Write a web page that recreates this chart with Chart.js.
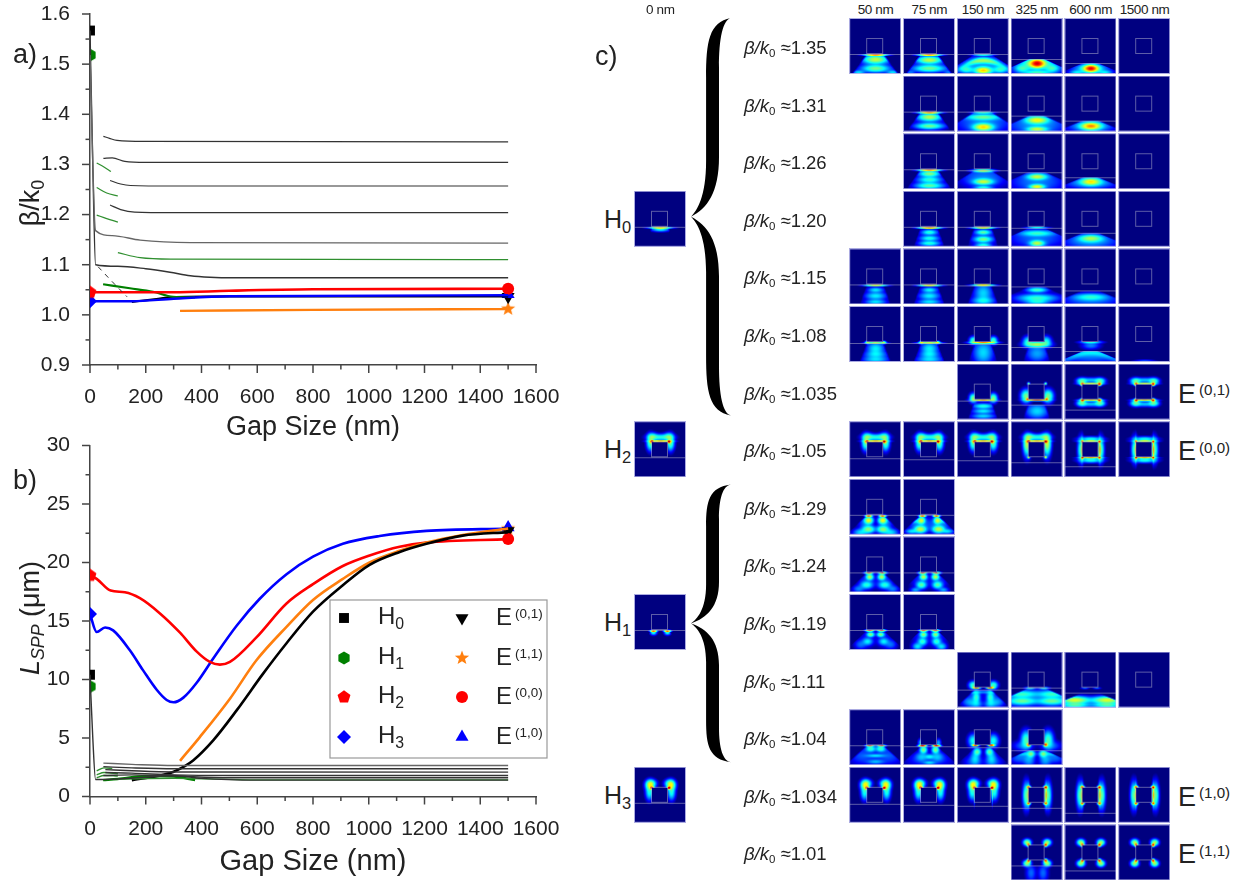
<!DOCTYPE html>
<html>
<head>
<meta charset="utf-8">
<title>Gap size chart</title>
<script src="https://cdn.jsdelivr.net/npm/chart.js@4/dist/chart.umd.js"></script>
<style>
  html, body { margin: 0; padding: 0; background: #fff; }
  #page { position: relative; width: 1237px; height: 882px; overflow: hidden; font-family: "Liberation Sans", Arial, sans-serif; color: #222; }
  canvas { position: absolute; }
  .lbl { position: absolute; white-space: nowrap; line-height: 1; transform: translateY(-50%); }
  .rot { transform: translate(-50%, -50%) rotate(-90deg); }
  .lbl sub { font-size: 0.66em; vertical-align: -0.32em; line-height: 0; }
  .lbl sup { font-size: 0.56em; vertical-align: 0.5em; line-height: 0; margin-left: 3px; }
  .row sub { font-size: 0.62em; vertical-align: -0.3em; }
  .row { font-size: 18.5px; }
  .col { font-size: 13.5px; letter-spacing: -0.4px; transform: translate(-50%, -50%); }
</style>
</head>
<body>
<div id="page">
  <canvas id="chartA" width="600" height="445" style="left:0px;top:0px"></canvas>
  <canvas id="chartB" width="600" height="452" style="left:0px;top:430px"></canvas>
  <canvas id="chartC" width="538" height="864" style="left:634px;top:18px"></canvas>
</div>
<script>
//panel a) values, [gap nm, beta/k0]
const aH0 = [[0, 1.567], [10, 1.3], [20, 1.1], [100, 1.097], [200, 1.092], [287, 1.085], [360, 1.078], [430, 1.075], [520, 1.074], [1500, 1.074]];
const aH1 = [[0, 1.518], [20, 1.168], [80, 1.158], [180, 1.149], [360, 1.144], [1500, 1.143]];
const aMode1 = [[48, 1.356], [70, 1.352], [97, 1.348], [200, 1.346], [1500, 1.345]];
const aMode2 = [[48, 1.312], [80, 1.313], [125, 1.306], [200, 1.304], [1500, 1.304]];
const aMode3 = [[72, 1.268], [110, 1.261], [145, 1.258], [300, 1.257], [1500, 1.257]];
const aMode4 = [[72, 1.219], [110, 1.21], [160, 1.205], [300, 1.204], [1500, 1.204]];
const aGreenLong = [[100, 1.124], [180, 1.114], [290, 1.111], [1500, 1.11]];
const aGreen1 = [[24, 1.303], [50, 1.295], [75, 1.286]];
const aGreen2 = [[24, 1.254], [60, 1.243], [100, 1.237]];
const aGreen3 = [[24, 1.199], [60, 1.192], [100, 1.185]];
const aDashed = [[29, 1.096], [80, 1.066], [133, 1.036]];
const aH2 = [[0, 1.045], [300, 1.045], [500, 1.048], [800, 1.051], [1500, 1.052]];
const aH3 = [[0, 1.027], [150, 1.027], [300, 1.032], [500, 1.037], [1500, 1.039]];
const aE01 = [[150, 1.026], [230, 1.031], [287, 1.035], [500, 1.037], [1500, 1.037]];
const aGreenThick = [[47, 1.061], [143, 1.053], [226, 1.046], [298, 1.036], [377, 1.035]];
const aE11 = [[323, 1.008], [800, 1.01], [1500, 1.0115]];

//panel b) values, [gap nm, L_SPP um]
const bH0 = [[0, 10.4], [10, 5], [20, 1.45], [100, 1.5], [200, 1.65], [300, 1.8], [400, 1.55], [600, 1.4], [1500, 1.4]];
const bMode1 = [[48, 2.85], [150, 2.75], [300, 2.65], [1500, 2.65]];
const bMode2 = [[48, 2.55], [150, 2.45], [300, 2.37], [1500, 2.37]];
const bMode3 = [[55, 2.3], [150, 2.2], [300, 2.1], [1500, 2.08]];
const bMode4 = [[55, 2.05], [150, 2.0], [300, 1.85], [500, 1.8], [1500, 1.8]];
const bMode5 = [[48, 1.8], [150, 1.85], [300, 1.75], [500, 1.6], [1500, 1.6]];
const bGreenLong = [[100, 1.5], [300, 1.55], [600, 1.42], [1500, 1.42]];
const bGreen1 = [[24, 2.2], [50, 2.45], [80, 2.4]];
const bGreen2 = [[24, 1.85], [50, 2.05], [100, 1.95]];
const bGreen3 = [[24, 1.6], [50, 1.8], [100, 1.75]];
const bGreenThick = [[47, 1.4], [100, 1.5], [200, 1.75], [300, 1.7], [377, 1.4]];
const bH2 = [[0, 18.9], [24, 18.6], [74, 17.6], [125, 17.45], [179, 16.95], [251, 15.65], [323, 14], [382, 12.4], [430, 11.5], [466, 11.27], [502, 11.5], [597, 13.6], [705, 16.5], [800, 18.15], [907, 19.7], [1003, 20.6], [1111, 21.35], [1207, 21.7], [1500, 22]];
const bH3 = [[0, 15.6], [24, 14.06], [54, 14.45], [83, 14.2], [143, 12.5], [190, 10.8], [240, 9.1], [275, 8.25], [300, 8.05], [335, 8.45], [382, 9.7], [442, 11.8], [526, 14.6], [609, 16.9], [705, 19], [800, 20.5], [907, 21.6], [1039, 22.26], [1207, 22.7], [1500, 22.9]];
const bE11 = [[323, 3.05], [394, 5.08], [502, 8.36], [597, 11.64], [705, 14.5], [800, 16.8], [907, 18.6], [1003, 20], [1111, 21], [1207, 21.7], [1337, 22.35], [1500, 22.9]];
const bE01 = [[150, 1.4], [287, 2], [340, 2.6], [370, 3.08], [442, 4.8], [526, 7.36], [621, 10.5], [705, 13.1], [800, 15.8], [907, 18.06], [1003, 19.8], [1111, 20.9], [1207, 21.6], [1337, 22.3], [1500, 22.6]];

//marker points at the end of the curves, [gap, value]
const aMarks = { H0: [0, 1.567], H1: [0, 1.518], H2: [0, 1.045], H3: [0, 1.027], E00: [1500, 1.052], E10: [1500, 1.041], E01: [1500, 1.036], E11: [1500, 1.012] };
const bMarks = { H0: [0, 10.4], H1: [0, 9.4], H2: [0, 18.9], H3: [0, 15.6], E00: [1500, 22], E01: [1500, 22.7], E10: [1500, 23], E11: [1500, 22.9] };

//panel c) labels
const gapLabels = ["0 nm", "", "", "", "50 nm", "75 nm", "150 nm", "325 nm", "600 nm", "1500 nm"];
const rowLabels = ["1.35", "1.31", "1.26", "1.20", "1.15", "1.08", "1.035", "1.05", "1.29", "1.24", "1.19", "1.11", "1.04", "1.034", "1.01"];
const leftModes = [["H", "0", 3], ["H", "2", 7], ["H", "1", 10], ["H", "3", 13]];
const rightModes = [["(0,1)", 6], ["(0,0)", 7], ["(1,0)", 13], ["(1,1)", 14]];
const braces = [[0, 6.9], [8.1, 12.92]];

//how fast the field below the line spreads sideways, by column
const coneSlope = [0.6, 0, 0, 0, 0.75, 0.75, 1.6, 2.2, 2.4, 2.4];
const narrowCone = 0.38;

//shared field sketches, each blob is [dx, y, rx, ry, level, bend], dx > 0 means a left/right pair
const E00arch = [[0, 19.5, 8, 0.8, 0.75], [8.5, 20, 1.5, 1.2, 0.85], [0, 15.5, 9, 2.5, 0.36], [8, 15, 4, 3, 0.36], [10, 21, 3, 6, 0.42]];
const E00ring = [[0, 19.5, 8, 0.7, 0.62], [0, 36, 8, 0.7, 0.62], [8.5, 20, 1, 1, 0.8], [8.5, 36, 1, 1, 0.8], [8.8, 28, 0.8, 8, 0.6], [10, 28, 2.5, 9, 0.4], [0, 17.5, 9, 2, 0.36], [0, 38.5, 9, 2, 0.36]];
const E01bone = [[8.5, 20, 1.5, 1.2, 0.85], [8.5, 36, 1.5, 1.2, 0.85], [0, 19.5, 8, 0.8, 0.62], [0, 36, 8, 0.8, 0.62], [9, 17, 4, 2.5, 0.42], [9, 39, 4, 2.5, 0.42], [0, 16, 8, 2, 0.28], [0, 40, 8, 2, 0.28]];
const E10heart = [[8.5, 20.5, 1.5, 1.2, 0.9], [10.5, 18, 3.5, 4, 0.5], [11, 25, 3, 6, 0.35], [9, 16, 4, 3, 0.35]];
const E10sides = [[8.8, 28, 0.9, 8, 0.6], [8.5, 20, 1.5, 1.2, 0.85], [8.5, 36, 1.5, 1.2, 0.7], [11, 28, 2.5, 10, 0.42]];
const E11four = [[10, 17.5, 3, 2.5, 0.5], [8.5, 20, 1.3, 1.3, 0.85], [8.5, 35.7, 1.3, 1.3, 0.85], [10, 38.5, 3, 2.5, 0.5]];
const strip = (level) => [[0, 36.4, 8, 0.7, level]];

//thumbnails: [row, column, interface line, blobs below the line, blobs anywhere]
const fieldMaps = [
  [3, 0, 36, [[0, 38, 7, 1.8, 0.35]], strip(0.7)],
  [7, 0, 36, [], E00arch],
  [10, 0, 36, [[7, 38, 2.5, 2, 0.35]], [[7, 36.5, 2.5, 0.8, 0.8]]],
  [13, 0, 36, [], E10heart],
  //beta/k0 1.35
  [0, 4, 36, [[0, 41, 10, 3.5, 0.5], [0, 50, 11, 3, 0.42], [17, 54, 5, 2, 0.3], [0, 46, 13, 8, 0.15]], strip(0.85)],
  [0, 5, 36, [[0, 41.5, 10, 3, 0.5], [0, 50, 13, 3, 0.42], [0, 45, 14, 6, 0.15], [19, 54, 4, 2, 0.2]], strip(0.85)],
  [0, 6, 36, [[0, 42, 17, 2.5, 0.45, 0.015], [0, 52, 7, 3, 0.6], [17, 51, 6, 3, 0.35], [0, 47, 24, 9, 0.22]], strip(0.4)],
  [0, 7, 41, [[0, 45, 6, 3.5, 0.8], [0, 45, 15, 4, 0.4], [0, 54, 12, 2, 0.35], [15, 50, 6, 3, 0.35], [0, 49, 25, 9, 0.2]], []],
  [0, 8, 45, [[0, 50, 6, 3, 0.8], [0, 50, 14, 4, 0.35], [14, 54, 6, 2, 0.3]], []],
  [0, 9, 0, [], []],
  //1.31
  [1, 5, 36, [[0, 41, 9, 3, 0.5], [0, 50, 11, 2.5, 0.42], [0, 46, 13, 7, 0.15]], strip(0.85)],
  [1, 6, 36, [[0, 41, 14, 2.5, 0.4], [0, 51, 8, 3, 0.6], [0, 46, 24, 10, 0.22]], strip(0.45)],
  [1, 7, 40, [[0, 44, 9, 3, 0.55], [0, 53, 8, 2, 0.5], [0, 48, 24, 9, 0.25]], []],
  [1, 8, 44.7, [[0, 50, 8, 3, 0.65], [0, 50, 18, 5, 0.3]], []],
  [1, 9, 0, [], []],
  //1.26
  [2, 5, 36, [[0, 40, 8, 2.5, 0.45], [0, 46, 9, 2.5, 0.35], [0, 52, 11, 2.5, 0.4], [0, 47, 13, 9, 0.15]], strip(0.85)],
  [2, 6, 37, [[0, 48, 8, 2.5, 0.5], [0, 44, 19, 9, 0.22], [0, 54, 7, 1.5, 0.35]], [[0, 37, 8, 1.2, 0.55]]],
  [2, 7, 38.5, [[0, 43, 8, 2.5, 0.5], [0, 53, 6, 2, 0.55], [0, 48, 22, 9, 0.22]], []],
  [2, 8, 44, [[0, 48, 8, 3, 0.55], [0, 49, 20, 5, 0.28]], []],
  [2, 9, 0, [], []],
  //1.20
  [3, 5, 36, [[0, 41, 6, 2, 0.35], [0, 47, 7, 2, 0.33], [0, 52, 8, 2, 0.35], [0, 46, 10, 10, 0.15]], strip(0.85)],
  [3, 6, 36, [[0, 41, 6, 2, 0.4], [0, 48, 7, 2.5, 0.42], [0, 54, 6, 2, 0.35], [0, 46, 12, 10, 0.15]], strip(0.72)],
  [3, 7, 37, [[0, 42, 14, 2.5, 0.35], [0, 52, 6, 2.5, 0.5], [0, 47, 24, 8, 0.2]], strip(0.4)],
  [3, 8, 42, [[0, 47, 10, 3, 0.45], [0, 50, 22, 6, 0.25]], []],
  [3, 9, 0, [], []],
  //1.15
  [4, 4, 36, [[0, 41, 6, 2, 0.3], [0, 47, 8, 3, 0.3], [0, 53, 8, 2, 0.3], [0, 47, 10, 9, 0.12]], strip(0.7)],
  [4, 5, 36, [[0, 41, 6, 2, 0.32], [0, 47, 8, 3, 0.3], [0, 53, 9, 2, 0.3], [0, 47, 10, 9, 0.12]], strip(0.75)],
  [4, 6, 37, [[0, 44, 7, 8, 0.28], [0, 52, 9, 3, 0.3], [0, 47, 12, 9, 0.1]], strip(0.7)],
  [4, 7, 38, [[0, 41, 8, 2, 0.4], [0, 49, 15, 3, 0.35], [0, 53, 9, 2, 0.3], [0, 50, 22, 6, 0.15]], []],
  [4, 8, 42, [[0, 48, 15, 3, 0.35], [0, 52, 24, 5, 0.2]], []],
  [4, 9, 0, [], []],
  //1.08
  [5, 4, 36.7, [[0, 42, 7, 5, 0.32], [0, 48, 9, 3, 0.28], [0, 53, 10, 3, 0.3]], [[0, 36.5, 7, 0.7, 0.6], [8, 36, 2, 1.2, 0.45]]],
  [5, 5, 36.7, [[0, 42, 7, 5, 0.32], [0, 48, 8, 3, 0.28], [0, 53, 10, 3, 0.3]], [[0, 36.5, 8, 0.7, 0.65], [8, 36, 2, 1.2, 0.5]]],
  [5, 6, 38, [[0, 46, 8, 10, 0.3]], [[0, 36, 9, 1, 0.7], [10, 34, 3, 3, 0.4]]],
  [5, 7, 40.7, [[0, 47, 9, 7, 0.25]], [[0, 38, 9, 2.5, 0.5], [9, 35, 4, 4, 0.35]]],
  [5, 8, 45, [[0, 46, 24, 3, 0.28, 0.012], [0, 50, 24, 6, 0.2]], [[0, 35.7, 8, 1.2, 0.35], [0, 39, 7, 3, 0.22]]],
  [5, 9, 0, [], [[0, 55, 8, 1.5, 0.2]]],
  //1.035
  [6, 6, 37.3, [[0, 42, 8, 2, 0.35], [0, 47, 8, 2, 0.3], [0, 52, 9, 2, 0.28], [0, 47, 10, 10, 0.12]], [[0, 35.7, 8, 0.8, 0.7], [10, 34, 3, 3.5, 0.45]]],
  [6, 7, 40.7, [[0, 47, 9, 6, 0.3]], [[0, 35.7, 8, 0.8, 0.8], [11, 32, 4, 5, 0.45], [9.5, 35, 1.2, 1.2, 0.7], [8.5, 19.5, 1, 1, 0.5]]],
  [6, 8, 46, [], E01bone],
  [6, 9, 0, [], E01bone],
  //1.05
  [7, 4, 36.5, [], E00arch],
  [7, 5, 37.5, [], E00arch],
  [7, 6, 38.5, [], E00arch],
  [7, 7, 41, [], E00arch.concat([[8.5, 35.5, 1, 1, 0.6], [10, 26, 3, 8, 0.35]])],
  [7, 8, 45, [], E00ring],
  [7, 9, 0, [], E00ring],
  //1.29
  [8, 4, 36, [[7, 41, 3.5, 3, 0.55], [7, 50, 5, 3, 0.45], [15, 53, 6, 3, 0.3], [10, 44, 6, 6, 0.2]], [[7, 36.5, 2.5, 0.8, 0.85]]],
  [8, 5, 36, [[8, 41, 3, 3, 0.5], [13, 42, 6, 2, 0.25], [9, 50, 5, 3, 0.5], [18, 52, 5, 2, 0.3], [10, 45, 10, 6, 0.2]], [[7, 36.5, 2.5, 0.8, 0.85]]],
  //1.24
  [9, 4, 36, [[6, 40, 3, 2.5, 0.5], [9, 48, 5, 3, 0.35], [17, 52, 5, 3, 0.22], [9, 44, 8, 7, 0.15]], [[7, 36, 3, 0.8, 0.8]]],
  [9, 5, 36, [[6, 40, 3, 2.5, 0.5], [8, 48, 4, 3, 0.4], [14, 53, 4, 2, 0.25], [9, 44, 8, 7, 0.15]], [[7, 36, 3, 0.8, 0.8]]],
  //1.19
  [10, 4, 36, [[5, 40, 3, 2, 0.45], [8, 47, 4, 3, 0.3], [15, 50, 5, 4, 0.2], [8, 44, 7, 8, 0.12]], [[6, 36, 3, 0.8, 0.8]]],
  [10, 5, 36, [[6, 40, 3, 2.5, 0.45], [7, 47, 3.5, 3, 0.35], [12, 52, 4, 3, 0.3], [8, 44, 7, 8, 0.15]], [[6, 36, 3, 0.8, 0.8]]],
  //1.11
  [11, 6, 38, [[13, 40, 13, 1.5, 0.25], [7, 45, 3, 5, 0.35], [14, 50, 6, 4, 0.22], [7, 52, 5, 3, 0.25], [10, 46, 8, 8, 0.15]], [[7, 35.5, 3, 0.9, 0.8], [10, 33, 3.5, 3, 0.4]]],
  [11, 7, 36, [[15, 42, 13, 3, 0.35], [15, 49, 12, 3, 0.4], [15, 46, 14, 9, 0.18]], [[7, 36, 4, 1, 0.35]]],
  [11, 8, 41, [[16, 48, 12, 3, 0.55], [16, 53, 12, 2, 0.4]], [[6, 36, 3, 0.8, 0.2]]],
  [11, 9, 0, [], []],
  //1.04
  [12, 4, 36, [[5, 39, 4, 2.5, 0.38], [0, 46, 8, 1.5, 0.28], [0, 52, 7, 2, 0.25], [13, 46, 12, 8, 0.18]], [[6, 36, 3, 0.7, 0.8]]],
  [12, 5, 36.5, [[6, 40, 3, 3, 0.45], [0, 47, 4, 2, 0.3], [8, 47, 5, 4, 0.25], [0, 53, 5, 1.5, 0.28], [10, 50, 13, 6, 0.14]], [[7, 36, 3, 0.8, 0.85], [9, 33, 2, 3, 0.25]]],
  [12, 6, 38, [[6, 42, 3, 3, 0.4], [8, 48, 4, 6, 0.28], [10, 52, 8, 5, 0.18]], [[8, 35.5, 2.5, 0.9, 0.85], [10, 31, 4, 5, 0.35]]],
  [12, 7, 40.7, [[6, 44, 3, 3, 0.4], [14, 44, 10, 2, 0.25], [8, 50, 5, 6, 0.25], [18, 48, 8, 5, 0.2]], [[8.5, 35, 1.5, 1.5, 0.8], [11, 30, 4, 7, 0.4], [14, 36, 8, 4, 0.2]]],
  //1.034
  [13, 4, 36.7, [], E10heart],
  [13, 5, 38, [], E10heart],
  [13, 6, 38.5, [], E10heart.concat([[9, 28, 0.6, 7, 0.3]])],
  [13, 7, 41, [], E10sides],
  [13, 8, 46, [], E10sides],
  [13, 9, 0, [], E10sides],
  //1.01
  [14, 7, 41, [[6, 48, 4, 7, 0.2]], E11four],
  [14, 8, 46, [], E11four],
  [14, 9, 0, [], E11four],
];

const BLACK = "#000000", GREEN = "#008000", RED = "#ff0000", BLUE = "#0000ff", ORANGE = "#ff7f0e";
const THIN = "#333333", GREY = "#666666", THINGREEN = "#2f8f2f", AXIS = "#444444";
const FONT = '"Liberation Sans", Arial, sans-serif';

//point shapes Chart.js does not have
function polyMarker(n, r, color, inner) {
  const c = document.createElement("canvas");
  c.width = c.height = 20;
  const g = c.getContext("2d");
  const steps = inner ? n * 2 : n;
  g.beginPath();
  for (let i = 0; i < steps; i++) {
    const rad = inner && i % 2 ? r * inner : r;
    const a = -Math.PI / 2 + (i * 2 * Math.PI) / steps;
    g.lineTo(10 + rad * Math.cos(a), 10 + rad * Math.sin(a));
  }
  g.closePath();
  g.fillStyle = color;
  g.fill();
  return c;
}

const markerStyles = {
  H0: { pointStyle: "rect", radius: 7, rotation: 0, color: BLACK },
  H1: { pointStyle: polyMarker(6, 6.5, GREEN), radius: 7, rotation: 0, color: GREEN },
  H2: { pointStyle: polyMarker(5, 6.8, RED), radius: 7, rotation: 0, color: RED },
  H3: { pointStyle: "rectRot", radius: 7, rotation: 0, color: BLUE },
  E01: { pointStyle: "triangle", radius: 7.5, rotation: 180, color: BLACK },
  E11: { pointStyle: polyMarker(5, 7.5, ORANGE, 0.42), radius: 7, rotation: 0, color: ORANGE },
  E00: { pointStyle: "circle", radius: 6, rotation: 0, color: RED },
  E10: { pointStyle: "triangle", radius: 7.5, rotation: 0, color: BLUE },
};

function curve(pairs, color, width, dash) {
  return {
    data: pairs.map((p) => ({ x: p[0], y: p[1] })),
    showLine: true,
    borderColor: color,
    borderWidth: width,
    borderDash: dash || [],
    pointRadius: 0,
    cubicInterpolationMode: "monotone",
  };
}

function markerSets(marks, order) {
  return order.map((name) => {
    const m = markerStyles[name];
    return {
      data: [{ x: marks[name][0], y: marks[name][1] }],
      pointStyle: m.pointStyle,
      pointRadius: m.radius,
      pointRotation: m.rotation,
      pointBackgroundColor: m.color,
      pointBorderWidth: 0,
    };
  });
}

//tick marks, labelled ones long and the others short
const axisTicks = {
  id: "axisTicks",
  afterDraw(chart) {
    const ctx = chart.ctx;
    ctx.save();
    ctx.strokeStyle = AXIS;
    ctx.lineWidth = 1.5;
    const xs = chart.scales.x, ys = chart.scales.y;
    xs.ticks.forEach((t, i) => {
      const p = xs.getPixelForTick(i), len = t.label !== "" ? 8 : 4.5;
      ctx.beginPath();
      ctx.moveTo(p, xs.top);
      ctx.lineTo(p, xs.top + len);
      ctx.stroke();
    });
    ys.ticks.forEach((t, i) => {
      const p = ys.getPixelForTick(i), len = t.label !== "" ? 8 : 4.5;
      ctx.beginPath();
      ctx.moveTo(ys.right, p);
      ctx.lineTo(ys.right - len, p);
      ctx.stroke();
    });
    ctx.restore();
  },
};

//legend box of panel b), the text on it is html
const legendX = [344, 462];
const legendY = [188, 228, 267, 307];
const legendOrder = [["H0", "H1", "H2", "H3"], ["E01", "E11", "E00", "E10"]];
const legendBox = {
  id: "legendBox",
  afterDraw(chart) {
    const ctx = chart.ctx;
    ctx.save();
    ctx.fillStyle = "#ffffff";
    ctx.strokeStyle = "#999999";
    ctx.lineWidth = 1.2;
    ctx.fillRect(330, 170, 217, 158);
    ctx.strokeRect(330, 170, 217, 158);
    legendOrder.forEach((names, c) => {
      names.forEach((name, r) => {
        const m = markerStyles[name];
        ctx.fillStyle = m.color;
        Chart.helpers.drawPoint(ctx, { pointStyle: m.pointStyle, radius: m.radius, rotation: m.rotation, borderWidth: 0 }, legendX[c], legendY[r]);
      });
    });
    ctx.restore();
  },
};

function plotOptions(yMin, yMax, yStep, yLabelStep, topPad, xHeight, titleSize, titleBottom) {
  return {
    responsive: false,
    animation: false,
    events: [],
    layout: { autoPadding: false, padding: { left: 0, top: topPad, right: 64, bottom: 0 } },
    plugins: { legend: { display: false }, tooltip: { enabled: false } },
    scales: {
      x: {
        type: "linear",
        min: 0,
        max: 1600,
        grid: { display: false },
        border: { color: AXIS, width: 1.5 },
        afterFit: (s) => { s.height = xHeight; s.paddingLeft = 0; s.paddingRight = 0; },
        ticks: {
          stepSize: 100,
          autoSkip: false,
          maxRotation: 0,
          padding: 12,
          color: "#222",
          font: { family: FONT, size: 21 },
          callback: (v) => (v % 200 === 0 ? String(v) : ""),
        },
        title: {
          display: true,
          text: "Gap Size (nm)",
          color: "#222",
          font: { family: FONT, size: titleSize },
          padding: { top: 0, bottom: titleBottom },
        },
      },
      y: {
        type: "linear",
        min: yMin,
        max: yMax,
        grid: { display: false },
        border: { color: AXIS, width: 1.5 },
        //without this the top label's own padding pushes the plot area down
        afterFit: (s) => { s.width = 90; s.paddingTop = 0; s.paddingBottom = 0; },
        ticks: {
          stepSize: yStep,
          autoSkip: false,
          padding: 12,
          color: "#222",
          font: { family: FONT, size: 21 },
          callback: (v) => {
            const k = v / yLabelStep;
            if (Math.abs(k - Math.round(k)) > 1e-6) return "";
            return yLabelStep < 1 ? v.toFixed(1) : String(Math.round(v));
          },
        },
      },
    },
  };
}

new Chart(document.getElementById("chartA"), {
  type: "scatter",
  data: {
    datasets: [
      curve(aMode1, THIN, 1.2), curve(aMode2, THIN, 1.2), curve(aMode3, THIN, 1.2), curve(aMode4, THIN, 1.2),
      curve(aH1, GREY, 1.4), curve(aH0, THIN, 1.4), curve(aDashed, THIN, 1, [5, 5]),
      curve(aGreenLong, THINGREEN, 1.2), curve(aGreen1, THINGREEN, 1.2), curve(aGreen2, THINGREEN, 1.2), curve(aGreen3, THINGREEN, 1.2),
      curve(aH3, BLUE, 2.4), curve(aH2, RED, 2.6), curve(aE11, ORANGE, 2.4), curve(aGreenThick, GREEN, 2.2), curve(aE01, BLACK, 2.2),
    ].concat(markerSets(aMarks, ["H0", "H1", "H2", "H3", "E00", "E10", "E01", "E11"])),
  },
  options: plotOptions(0.9, 1.6, 0.05, 0.1, 14, 80, 27, 1),
  plugins: [axisTicks],
});

new Chart(document.getElementById("chartB"), {
  type: "scatter",
  data: {
    datasets: [
      curve(bMode1, GREY, 1.4), curve(bMode2, THIN, 1.4), curve(bMode3, THIN, 1.4), curve(bMode4, THIN, 1.4), curve(bMode5, THIN, 1.4),
      curve(bH0, THIN, 1.4), curve(bGreen1, THINGREEN, 1.4), curve(bGreen2, THINGREEN, 1.4), curve(bGreen3, THINGREEN, 1.4),
      curve(bGreenLong, THINGREEN, 1.4), curve(bGreenThick, GREEN, 2.4),
      curve(bE01, BLACK, 2.6), curve(bE11, ORANGE, 2.6), curve(bH2, RED, 2.6), curve(bH3, BLUE, 2.6),
    ].concat(markerSets(bMarks, ["H0", "H1", "H2", "H3", "E00", "E01", "E10", "E11"])),
  },
  options: plotOptions(0, 30, 2.5, 5, 15.5, 85.5, 29, 3),
  plugins: [axisTicks, legendBox],
});

//jet colour map
function jet(t) {
  const ramp = (d) => Math.max(0, Math.min(1, 1.5 - Math.abs(4 * t - d)));
  return [255 * ramp(3), 255 * ramp(2), 255 * ramp(1)];
}

function slopeFor(row, col) {
  if (row >= 3 && row <= 6 && col <= 6) return narrowCone;
  if ((row === 5 || row === 6) && col === 7) return narrowCone;
  if (row >= 8 && row <= 12 && col <= 6) return 1.1;
  return coneSlope[col];
}

//one field picture, drawn into a small canvas that the chart uses as a point style
function fieldThumb(line, below, free, slope) {
  const W = 52, H = 56;
  const c = document.createElement("canvas");
  c.width = W;
  c.height = H;
  const g = c.getContext("2d");
  const img = g.createImageData(W, H);
  //overlapping blobs are joined softly so they do not pile up past their own level
  const sum = (blobs, x, y) => {
    let v = 0;
    blobs.forEach((b) => {
      const sides = b[0] > 0 ? [26 - b[0], 26 + b[0]] : [26];
      sides.forEach((cx) => {
        const dy = y - b[1] - (b[5] || 0) * (x - cx) * (x - cx);
        const f = b[4] * Math.exp(-((x - cx) * (x - cx)) / (2 * b[2] * b[2]) - (dy * dy) / (2 * b[3] * b[3]));
        v += f * f;
      });
    });
    return v;
  };
  for (let y = 0; y < H; y++) {
    for (let x = 0; x < W; x++) {
      let v = sum(free, x, y);
      if (line > 0 && y >= line) {
        //below the line the field stays inside a widening cone
        const edge = 10 + slope * (y - line) - Math.abs(x - 25.5);
        const mask = Math.max(0, Math.min(1, edge / 3));
        v += sum(below, x, y) * mask * mask;
      }
      v = Math.pow(v, 0.4);
      //cut the long faint tails so the navy background stays clean
      v = Math.max(0, v - 0.06) / 0.94;
      //the metal square stays dark
      if (x > 17.5 && x < 34 && y > 20.5 && y < 35.5) v = 0;
      const rgb = jet(Math.min(1, v));
      const k = (y * W + x) * 4;
      img.data[k] = rgb[0];
      img.data[k + 1] = rgb[1];
      img.data[k + 2] = rgb[2];
      img.data[k + 3] = 255;
    }
  }
  g.putImageData(img, 0, 0);
  g.strokeStyle = "rgba(170,170,200,0.55)";
  g.lineWidth = 1;
  g.strokeRect(17.5, 20.5, 16, 15);
  if (line > 0) {
    g.beginPath();
    g.moveTo(0, Math.round(line) + 0.5);
    g.lineTo(W, Math.round(line) + 0.5);
    g.stroke();
  }
  g.strokeStyle = "rgba(190,190,235,0.9)";
  g.strokeRect(0.5, 0.5, W - 1, H - 1);
  return c;
}

//the two big curly braces
function drawBrace(ctx, xTip, xLeft, xRight, xEnd, yTop, yBot) {
  const mid = (yTop + yBot) / 2, h = mid - yTop;
  ctx.beginPath();
  ctx.moveTo(xEnd, yTop);
  ctx.bezierCurveTo(xLeft + 3, yTop + 0.02 * h, xLeft, yTop + 0.12 * h, xLeft, yTop + 0.3 * h);
  ctx.lineTo(xLeft, mid - 0.28 * h);
  ctx.bezierCurveTo(xLeft, mid - 0.1 * h, xTip + 6, mid - 0.03 * h, xTip, mid);
  ctx.bezierCurveTo(xTip + 6, mid + 0.03 * h, xLeft, mid + 0.1 * h, xLeft, mid + 0.28 * h);
  ctx.lineTo(xLeft, yBot - 0.3 * h);
  ctx.bezierCurveTo(xLeft, yBot - 0.12 * h, xLeft + 3, yBot - 0.02 * h, xEnd, yBot);
  ctx.bezierCurveTo(xEnd - 8, yBot - 0.01 * h, xRight, yBot - 0.1 * h, xRight, yBot - 0.25 * h);
  ctx.lineTo(xRight, mid + 0.3 * h);
  ctx.bezierCurveTo(xRight, mid + 0.12 * h, xTip + 16, mid + 0.04 * h, xTip, mid);
  ctx.bezierCurveTo(xTip + 16, mid - 0.04 * h, xRight, mid - 0.12 * h, xRight, mid - 0.3 * h);
  ctx.lineTo(xRight, yTop + 0.25 * h);
  ctx.bezierCurveTo(xRight, yTop + 0.1 * h, xEnd - 8, yTop + 0.01 * h, xEnd, yTop);
  ctx.closePath();
  ctx.fillStyle = "#000";
  ctx.fill();
}

const braceDraw = {
  id: "braceDraw",
  afterDraw(chart) {
    const xs = chart.scales.x, ys = chart.scales.y;
    braces.forEach((b) => {
      drawBrace(chart.ctx, xs.getPixelForValue(1.06), xs.getPixelForValue(1.34), xs.getPixelForValue(1.58), xs.getPixelForValue(1.8), ys.getPixelForValue(b[0]), ys.getPixelForValue(b[1]));
    });
  },
};

new Chart(document.getElementById("chartC"), {
  type: "scatter",
  data: {
    datasets: [{
      data: fieldMaps.map((m) => ({ x: m[1] + 0.483, y: m[0] + 0.486 })),
      pointStyle: fieldMaps.map((m) => fieldThumb(m[2], m[3], m[4], slopeFor(m[0], m[1]))),
      pointRadius: 10,
      pointBorderWidth: 0,
    }],
  },
  options: {
    responsive: false,
    animation: false,
    events: [],
    layout: { autoPadding: false, padding: 0 },
    plugins: { legend: { display: false }, tooltip: { enabled: false } },
    scales: {
      x: { type: "linear", min: 0, max: 10, display: false },
      y: { type: "linear", min: 0, max: 15, reverse: true, display: false },
    },
  },
  plugins: [braceDraw],
});

//text that needs sub or superscripts goes on top as html
const page = document.getElementById("page");
function addLabel(html, x, y, size, cls) {
  const el = document.createElement("div");
  el.className = "lbl " + (cls || "");
  el.style.left = x + "px";
  el.style.top = y + "px";
  if (size) el.style.fontSize = size + "px";
  el.innerHTML = html;
  page.appendChild(el);
}

addLabel("a)", 13, 54, 27);
addLabel("b)", 13, 480, 27);
addLabel("c)", 595, 56, 27);
addLabel("β/k<sub>0</sub>", 30, 203, 27, "rot");
addLabel("<i>L</i><sub><i>SPP</i></sub> (μm)", 30, 618, 27, "rot");

//legend text
["0", "1", "2", "3"].forEach((n, r) => addLabel("H<sub>" + n + "</sub>", 378, 430 + legendY[r] - 2, 24));
["(0,1)", "(1,1)", "(0,0)", "(1,0)"].forEach((n, r) => addLabel("E<sup>" + n + "</sup>", 496, 430 + legendY[r] - 1, 24));

//panel c text
gapLabels.forEach((t, c) => { if (t) addLabel(t, 634.3 + 53.8 * c + 26, 10, 0, "col"); });
rowLabels.forEach((t, r) => addLabel('<i>β/k</i><sub>0</sub> ≈' + t, 744, 18 + 57.6 * r + 30, 0, "row"));
leftModes.forEach((m) => addLabel(m[0] + "<sub>" + m[1] + "</sub>", 604, 18 + 57.6 * m[2] + 28, 25));
rightModes.forEach((m) => addLabel("E<sup>" + m[0] + "</sup>", 1178, 18 + 57.6 * m[1] + 30, 27));
</script>
</body>
</html>
